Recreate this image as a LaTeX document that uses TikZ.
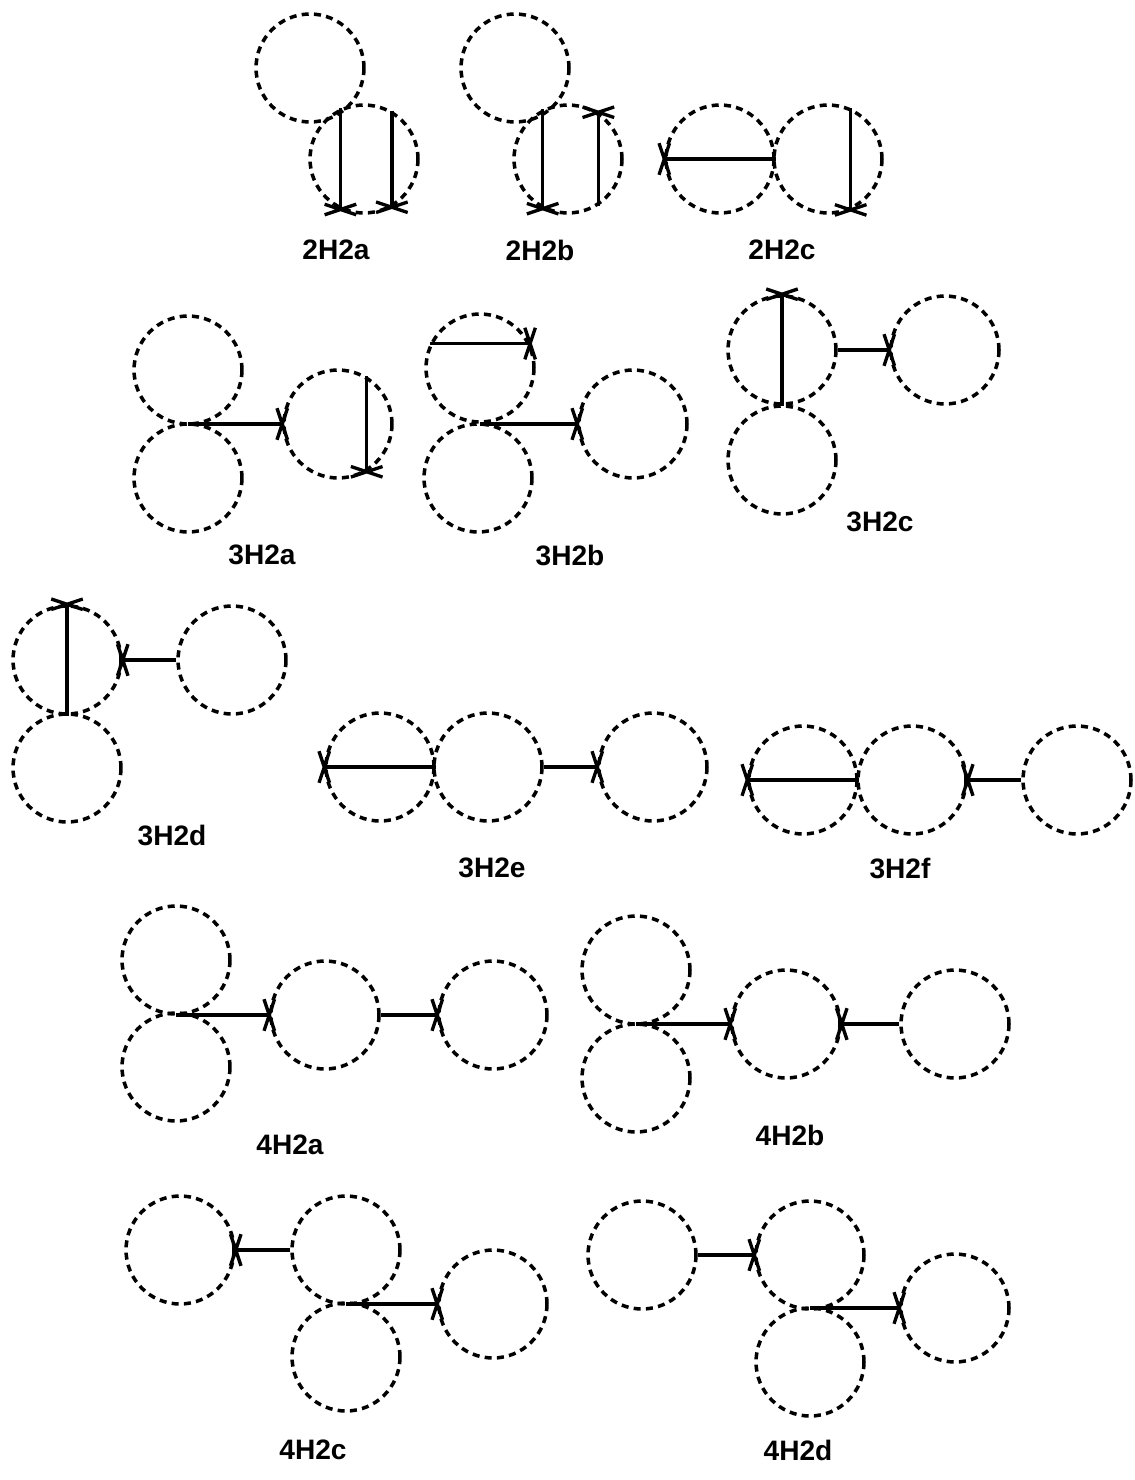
\documentclass[tikz,border=0pt]{standalone}
\usepackage{fontspec}
\setmainfont{Liberation Sans}
\usetikzlibrary{arrows.meta}

% crossed tip, centred on the end point
\pgfdeclarearrow{
  name = Cross,
  parameters = {\the\pgfarrowlength,\the\pgfarrowwidth,\the\pgfarrowlinewidth},
  setup code = {
    \pgfarrowssettipend{0pt}
    \pgfarrowssetlineend{0pt}
    \pgfarrowssetbackend{-\pgfarrowlength}
    \pgfarrowssetvisualbackend{-\pgfarrowlength}
    \pgfarrowsupperhullpoint{\pgfarrowlength}{.5\pgfarrowwidth}
    \pgfarrowsupperhullpoint{-\pgfarrowlength}{.5\pgfarrowwidth}
    \pgfarrowssavethe\pgfarrowlength
    \pgfarrowssavethe\pgfarrowwidth
    \pgfarrowssavethe\pgfarrowlinewidth
  },
  drawing code = {
    \pgfsetdash{}{0pt}
    \pgfsetlinewidth{\pgfarrowlinewidth}
    \pgfpathmoveto{\pgfqpoint{-\pgfarrowlength}{.5\pgfarrowwidth}}
    \pgfpathlineto{\pgfqpoint{\pgfarrowlength}{-.5\pgfarrowwidth}}
    \pgfpathmoveto{\pgfqpoint{-\pgfarrowlength}{-.5\pgfarrowwidth}}
    \pgfpathlineto{\pgfqpoint{\pgfarrowlength}{.5\pgfarrowwidth}}
    \pgfusepathqstroke
  },
  defaults = {length=3pt, width=18pt, line width=0pt 1}
}

\begin{document}
\begin{tikzpicture}[
  x=0.02cm, y=-0.02cm, font=\fontsize{16}{19}\selectfont\bfseries,
  ring/.style={circle, draw, minimum size=2.16cm, inner sep=0pt,
               line width=2pt, dash pattern=on 4pt off 3pt},
  hb/.style={line width=1.9pt, -{Cross[length=3pt,width=18pt]}},
  tag/.style={inner sep=0pt}
]
  \useasboundingbox (0,0) rectangle (1134,1480);

  % 2H2a
  \node[ring] (aa1) at (310,68) {};
  \node[ring] (aa2) at (364,159) {};
  \draw[hb] (aa2.115) -- (aa2.245);
  \draw[hb] (aa2.60) -- (aa2.-60);
  \node[tag] (laa) at (336,250) {2H2a};

  % 2H2b
  \node[ring] (ab1) at (515,68) {};
  \node[ring] (ab2) at (568,159) {};
  \draw[hb] (ab2.117) -- (ab2.243);
  \draw[hb] (ab2.-57) -- (ab2.57);
  \node[tag] (lab) at (540,250) {2H2b};

  % 2H2c
  \node[ring] (ac1) at (720,159) {};
  \node[ring] (ac2) at (828,159) {};
  \draw[hb] (ac1.east) -- (ac1.west);
  \draw[hb] (ac2.66) -- (ac2.-66);
  \node[tag] (lac) at (782,250) {2H2c};

  % 3H2a
  \node[ring] (ba1) at (188,370) {};
  \node[ring] (ba2) at (188,478) {};
  \node[ring] (ba3) at (338,424) {};
  \draw[hb] (ba3.west -| ba1.south) -- (ba3.west);
  \draw[hb] (ba3.59) -- (ba3.-59);
  \node[tag] (lba) at (262,555) {3H2a};

  % 3H2b
  \node[ring] (bb1) at (480,368) {};
  \node[ring] (bb2) at (478,478) {};
  \node[ring] (bb3) at (633,424) {};
  \draw[hb] (bb1.154) -- (bb1.26);
  \draw[hb] (bb3.west -| bb1.south) -- (bb3.west);
  \node[tag] (lbb) at (570,555) {3H2b};

  % 3H2c
  \node[ring] (bc1) at (782,350) {};
  \node[ring] (bc2) at (782,460) {};
  \node[ring] (bc3) at (945,350) {};
  \draw[hb] (bc1.south) -- (bc1.north);
  \draw[hb] (bc1.east) -- (bc3.west);
  \node[tag] (lbc) at (880,522) {3H2c};

  % 3H2d
  \node[ring] (bd1) at (67,660) {};
  \node[ring] (bd2) at (67,768) {};
  \node[ring] (bd3) at (232,660) {};
  \draw[hb] (bd1.south) -- (bd1.north);
  \draw[hb] (bd3.west) -- (bd1.east);
  \node[tag] (lbd) at (172,835) {3H2d};

  % 3H2e
  \node[ring] (be1) at (380,767) {};
  \node[ring] (be2) at (488,767) {};
  \node[ring] (be3) at (653,767) {};
  \draw[hb] (be1.east) -- (be1.west);
  \draw[hb] (be2.east) -- (be3.west);
  \node[tag] (lbe) at (492,868) {3H2e};

  % 3H2f
  \node[ring] (bf1) at (803,780) {};
  \node[ring] (bf2) at (912,780) {};
  \node[ring] (bf3) at (1077,780) {};
  \draw[hb] (bf1.east) -- (bf1.west);
  \draw[hb] (bf3.west) -- (bf2.east);
  \node[tag] (lbf) at (900,868) {3H2f};

  % 4H2a
  \node[ring] (ca1) at (176,960) {};
  \node[ring] (ca2) at (176,1067) {};
  \node[ring] (ca3) at (325,1015) {};
  \node[ring] (ca4) at (493,1015) {};
  \draw[hb] (ca3.west -| ca1.south) -- (ca3.west);
  \draw[hb] (ca3.east) -- (ca4.west);
  \node[tag] (lca) at (290,1145) {4H2a};

  % 4H2b
  \node[ring] (cb1) at (636,970) {};
  \node[ring] (cb2) at (636,1078) {};
  \node[ring] (cb3) at (786,1024) {};
  \node[ring] (cb4) at (955,1024) {};
  \draw[hb] (cb3.west -| cb1.south) -- (cb3.west);
  \draw[hb] (cb4.west) -- (cb3.east);
  \node[tag] (lcb) at (790,1135) {4H2b};

  % 4H2c
  \node[ring] (cc1) at (180,1250) {};
  \node[ring] (cc2) at (346,1250) {};
  \node[ring] (cc3) at (346,1357) {};
  \node[ring] (cc4) at (493,1304) {};
  \draw[hb] (cc2.west) -- (cc1.east);
  \draw[hb] (cc4.west -| cc2.south) -- (cc4.west);
  \node[tag] (lcc) at (313,1450) {4H2c};

  % 4H2d
  \node[ring] (cd1) at (642,1255) {};
  \node[ring] (cd2) at (810,1255) {};
  \node[ring] (cd3) at (810,1362) {};
  \node[ring] (cd4) at (955,1308) {};
  \draw[hb] (cd1.east) -- (cd2.west);
  \draw[hb] (cd4.west -| cd2.south) -- (cd4.west);
  \node[tag] (lcd) at (798,1450) {4H2d};
\end{tikzpicture}
\end{document}
